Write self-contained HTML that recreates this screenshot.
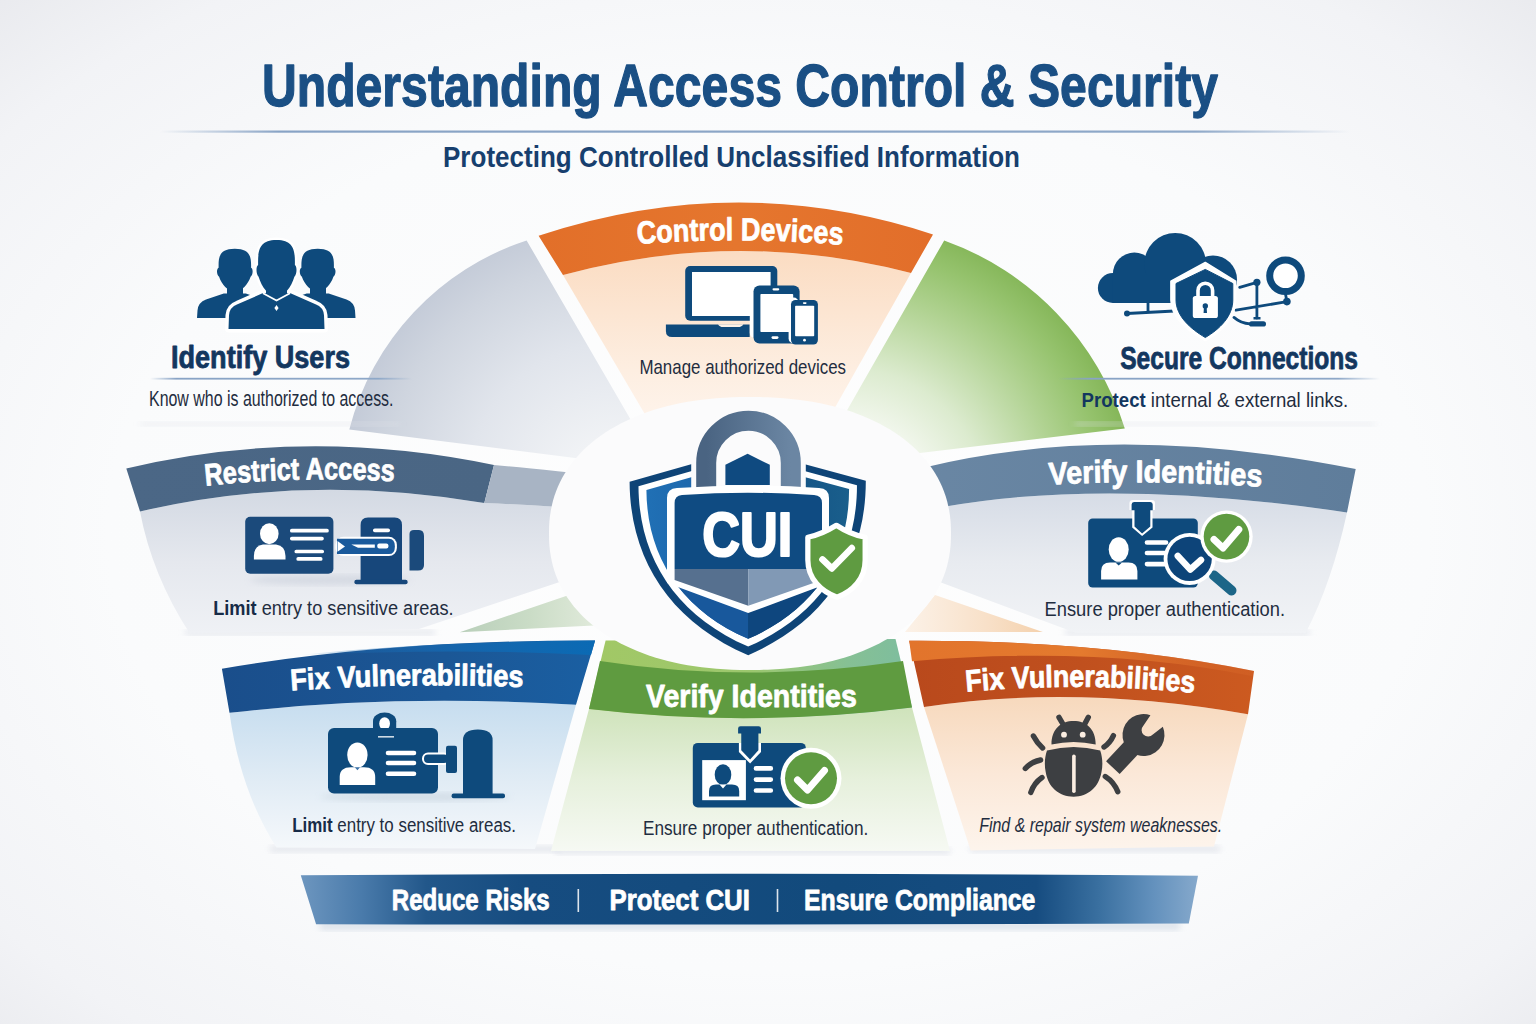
<!DOCTYPE html>
<html><head><meta charset="utf-8"><title>Understanding Access Control &amp; Security</title>
<style>html,body{margin:0;padding:0;background:#f4f5f8;}body{width:1536px;height:1024px;overflow:hidden;font-family:"Liberation Sans",sans-serif;}svg{display:block}</style>
</head><body>
<svg width="1536" height="1024" viewBox="0 0 1536 1024" font-family="Liberation Sans, sans-serif"><defs>
<radialGradient id="bg" cx="50%" cy="52%" r="74%">
  <stop offset="0" stop-color="#fefefe"/><stop offset="0.58" stop-color="#fafbfc"/><stop offset="0.85" stop-color="#f2f3f6"/><stop offset="1" stop-color="#e8e9ed"/>
</radialGradient>
<linearGradient id="gTitleLine" x1="0" x2="1">
  <stop offset="0" stop-color="#88a3c5" stop-opacity="0"/><stop offset="0.1" stop-color="#88a3c5"/><stop offset="0.87" stop-color="#8ea8c8"/><stop offset="1" stop-color="#8ea8c8" stop-opacity="0"/>
</linearGradient>
<radialGradient id="gGray" gradientUnits="userSpaceOnUse" cx="615" cy="493" r="272">
  <stop offset="0.2" stop-color="#f0f2f5"/><stop offset="0.55" stop-color="#e1e5ec"/><stop offset="0.85" stop-color="#cfd5df"/><stop offset="1" stop-color="#c4cbd8"/>
</radialGradient>
<radialGradient id="gGreen" gradientUnits="userSpaceOnUse" cx="842" cy="514" r="294">
  <stop offset="0.3" stop-color="#f4f8f0"/><stop offset="0.5" stop-color="#dcebcf"/><stop offset="0.75" stop-color="#b0d291"/><stop offset="0.9" stop-color="#96c36e"/><stop offset="1" stop-color="#86b75a"/>
</radialGradient>
<linearGradient id="gOrBody" x1="0" y1="0" x2="0" y2="1">
  <stop offset="0" stop-color="#fbdcc2"/><stop offset="0.6" stop-color="#fdeee1"/><stop offset="1" stop-color="#fff7f1"/>
</linearGradient>
<linearGradient id="gOrBand" x1="0" y1="0" x2="1" y2="0">
  <stop offset="0" stop-color="#e26f29"/><stop offset="0.5" stop-color="#e5762e"/><stop offset="1" stop-color="#e26e2a"/>
</linearGradient>
<linearGradient id="gRestrictBody" x1="0" y1="0" x2="0" y2="1">
  <stop offset="0" stop-color="#d3d9e3"/><stop offset="0.5" stop-color="#e5e8ee"/><stop offset="1" stop-color="#eff1f5"/>
</linearGradient>
<linearGradient id="gRestrictBand" x1="0" y1="0" x2="1" y2="0">
  <stop offset="0" stop-color="#4b6786"/><stop offset="1" stop-color="#4a6684"/>
</linearGradient>
<linearGradient id="gVerBody" x1="0" y1="0" x2="0" y2="1">
  <stop offset="0" stop-color="#d6dce6"/><stop offset="0.5" stop-color="#e8ebf0"/><stop offset="1" stop-color="#f1f3f6"/>
</linearGradient>
<linearGradient id="gVerBand" x1="0" y1="0" x2="1" y2="0">
  <stop offset="0" stop-color="#6a87a4"/><stop offset="1" stop-color="#5f7d9b"/>
</linearGradient>
<linearGradient id="gFixBand" x1="0" y1="0" x2="1" y2="0">
  <stop offset="0" stop-color="#1a4e8b"/><stop offset="0.6" stop-color="#1b5796"/><stop offset="1" stop-color="#1a5fa2"/>
</linearGradient>
<linearGradient id="gSlvO" x1="0" y1="0" x2="1" y2="0">
  <stop offset="0" stop-color="#fcf2e8"/><stop offset="0.6" stop-color="#f8e0c8"/><stop offset="1" stop-color="#f4d1ad"/>
</linearGradient>
<linearGradient id="gSlvG" x1="0" y1="0" x2="1" y2="0">
  <stop offset="0" stop-color="#b9cfba"/><stop offset="0.5" stop-color="#cadcc6"/><stop offset="1" stop-color="#e2ebdc"/>
</linearGradient>
<linearGradient id="gFixTop" x1="0" y1="0" x2="1" y2="0">
  <stop offset="0" stop-color="#1e6cb3" stop-opacity="0"/><stop offset="0.5" stop-color="#1568b0" stop-opacity="0.8"/><stop offset="1" stop-color="#0b6ab4"/>
</linearGradient>
<linearGradient id="gFixBody" x1="0" y1="0" x2="0" y2="1">
  <stop offset="0" stop-color="#c6ddef"/><stop offset="0.55" stop-color="#e1ecf5"/><stop offset="1" stop-color="#f5f8fb"/>
</linearGradient>
<linearGradient id="gGrTop" x1="0" y1="0" x2="1" y2="0">
  <stop offset="0" stop-color="#a2c865"/><stop offset="0.5" stop-color="#9cc76e"/><stop offset="0.8" stop-color="#86c094"/><stop offset="1" stop-color="#7dbd9f"/>
</linearGradient>
<linearGradient id="gGrBand" x1="0" y1="0" x2="0" y2="1">
  <stop offset="0" stop-color="#a3c86b"/><stop offset="0.28" stop-color="#8dbb5e"/><stop offset="0.32" stop-color="#64a043"/><stop offset="1" stop-color="#5d993e"/>
</linearGradient>
<linearGradient id="gGrBody" x1="0" y1="0" x2="0" y2="1">
  <stop offset="0" stop-color="#cfe3bb"/><stop offset="0.5" stop-color="#e6f0dc"/><stop offset="1" stop-color="#f6f9f3"/>
</linearGradient>
<linearGradient id="gOr2Band" x1="0" y1="0" x2="1" y2="0">
  <stop offset="0" stop-color="#b9491c"/><stop offset="0.5" stop-color="#c0501e"/><stop offset="1" stop-color="#cc5a20"/>
</linearGradient>
<linearGradient id="gOr2Top" x1="0" y1="0" x2="1" y2="0">
  <stop offset="0" stop-color="#e2742c"/><stop offset="0.5" stop-color="#e47a2e"/><stop offset="1" stop-color="#d9682a" stop-opacity="0.3"/>
</linearGradient>
<linearGradient id="gOr2Body" x1="0" y1="0" x2="0" y2="1">
  <stop offset="0" stop-color="#f7d9bd"/><stop offset="0.5" stop-color="#fbe8d8"/><stop offset="1" stop-color="#fdf4ec"/>
</linearGradient>
<linearGradient id="gBanner" x1="0" y1="0" x2="1" y2="0">
  <stop offset="0" stop-color="#6d96bf"/><stop offset="0.067" stop-color="#4a7bab"/><stop offset="0.14" stop-color="#22578a"/><stop offset="0.25" stop-color="#164c80"/><stop offset="0.6" stop-color="#124a7c"/><stop offset="0.82" stop-color="#164c80"/><stop offset="0.89" stop-color="#3a70a0"/><stop offset="0.95" stop-color="#6391bd"/><stop offset="1" stop-color="#86a9cc"/>
</linearGradient>
<linearGradient id="gShackle" x1="0" y1="0" x2="1" y2="0">
  <stop offset="0" stop-color="#4a6482"/><stop offset="1" stop-color="#6b86a3"/>
</linearGradient>
<linearGradient id="gShieldIn" x1="0" y1="0" x2="1" y2="0">
  <stop offset="0" stop-color="#1f6db2"/><stop offset="0.5" stop-color="#18589a"/><stop offset="1" stop-color="#17577f"/>
</linearGradient>
<radialGradient id="gEll" cx="50%" cy="50%" r="50%">
  <stop offset="0.85" stop-color="#ffffff"/><stop offset="1" stop-color="#fafbfc"/>
</radialGradient>
<filter id="soft" x="-20%" y="-20%" width="140%" height="140%"><feGaussianBlur stdDeviation="3"/></filter>
<filter id="soft6" x="-20%" y="-20%" width="140%" height="140%"><feGaussianBlur stdDeviation="6"/></filter>
</defs>
<rect width="1536" height="1024" fill="url(#bg)"/>
<text x="262.00" y="106.3" font-size="59.88" font-weight="bold" font-style="normal" fill="#1a4f84" textLength="956.00" lengthAdjust="spacingAndGlyphs"  stroke="#1a4f84" stroke-width="1.30" stroke-linejoin="round">Understanding Access Control &amp; Security</text>
<rect x="160" y="130.5" width="1190" height="2.2" fill="url(#gTitleLine)"/>
<text x="443.00" y="167.1" font-size="29.22" font-weight="bold" font-style="normal" fill="#173f6e" textLength="577.00" lengthAdjust="spacingAndGlyphs" >Protecting Controlled Unclassified Information</text>
<path d="M526.6,240.4 A270,270 0 0 0 349.3,429.5 L579,458.5 L640,470 L630.9,419.9 Z" fill="url(#gGray)"/>
<path d="M944.2,240.4 A292,292 0 0 1 1124.8,428.5 L911.6,454.1 L860,480 L814,468 Z" fill="url(#gGreen)"/>
<path d="M563,275 Q737.7,228 911,273 L811,450 L666,450 Z" fill="url(#gOrBody)"/>
<path d="M538.6,235.8 Q737.7,170 933,234.4 L911,273 Q737.7,228 563,275 Z" fill="url(#gOrBand)"/>
<rect x="140" y="422" width="260" height="4" fill="#dfe2e8" opacity="0.5" filter="url(#soft)"/>
<rect x="150" y="377.8" width="262" height="1.8" fill="url(#gTitleLine)"/>
<rect x="1075" y="422" width="300" height="4" fill="#dfe2e8" opacity="0.5" filter="url(#soft)"/>
<rect x="1058" y="377.8" width="322" height="1.8" fill="url(#gTitleLine)"/>
<rect x="185" y="630" width="250" height="5" fill="#d9dde5" opacity="0.7" filter="url(#soft)"/>
<path d="M140,511.4 Q306,472.8 484.3,503 Q560,506 620,512 L620,580 L559.7,581.9 L419,629 L189.8,633.5 Q152,575 140,511.4 Z" fill="url(#gRestrictBody)"/>
<path d="M126.3,468.4 Q306,425.9 494,465 L484.3,503 Q306,472.8 140,511.4 Z" fill="url(#gRestrictBand)"/>
<path d="M494,465 Q540,469 620,478 L620,512 Q560,506 484.3,503 Z" fill="#a8b4c4"/>
<path d="M459.7,632.2 L567.5,595.6 L600,600 L600,626 L594,625.6 Z" fill="url(#gSlvG)"/>
<rect x="1065" y="630" width="245" height="5" fill="#d9dde5" opacity="0.7" filter="url(#soft)"/>
<path d="M900,506.5 L945.6,506.5 Q1109.7,477.6 1347,512.4 Q1332,582 1305.6,633 L1076,633 L941,582.5 L900,570 Z" fill="url(#gVerBody)"/>
<path d="M900,470 L924.4,467.4 Q1115.8,421 1355.7,469 L1347,512.4 Q1109.7,477.6 945.6,506.5 L900,506.5 Z" fill="url(#gVerBand)"/>
<path d="M935,595 L1042.8,632 L905,632 Z" fill="url(#gSlvO)"/>
<rect x="270" y="846" width="290" height="6" fill="#d9dde5" opacity="0.7" filter="url(#soft)"/>
<path d="M229.5,712.8 Q391,694 576,704.8 L535,849 L276.4,847.5 Q240,790 229.5,712.8 Z" fill="url(#gFixBody)"/>
<path d="M221.9,668.7 Q391,640 595.1,640.5 L576,704.8 Q391,694 229.5,712.8 Z" fill="url(#gFixBand)"/>
<path d="M300,655 Q420,642 595.1,640.5 L591,655 Q460,648 300,655 Z" fill="url(#gFixTop)"/>
<rect x="555" y="848" width="395" height="6" fill="#d9dde5" opacity="0.7" filter="url(#soft)"/>
<path d="M589,709 Q748,728 912,707.5 L950,851 L551,851 Z" fill="url(#gGrBody)"/>
<path d="M605.6,640.5 L895.5,639 L912,707.5 Q748,728 589,709 Z" fill="url(#gGrTop)"/>
<path d="M600,661 Q748,684 903,661 L912,707.5 Q748,728 589,709 Z" fill="#5f9b40"/>
<rect x="970" y="846" width="250" height="6" fill="#d9dde5" opacity="0.7" filter="url(#soft)"/>
<path d="M924,707 Q1075,684 1248,714.3 L1214,846.6 L970.7,850.5 Z" fill="url(#gOr2Body)"/>
<path d="M909.2,640.8 Q1100,640 1254,671 L1248,714.3 Q1075,684 924,707 Z" fill="url(#gOr2Band)"/>
<path d="M909.2,640.8 Q1100,640 1254,671 L1252,676 Q1100,645 912,661.3 Z" fill="url(#gOr2Top)"/>
<path d="M951.0,533.5 L950.9,540.0 L950.6,545.6 L950.0,551.0 L949.2,556.2 L948.2,561.3 L947.0,566.2 L945.6,571.1 L943.9,575.8 L942.0,580.4 L939.9,585.0 L937.6,589.4 L935.1,593.8 L932.4,598.0 L929.5,602.1 L926.4,606.2 L923.0,610.1 L919.5,614.0 L915.8,617.7 L911.9,621.3 L907.8,624.8 L903.5,628.2 L899.0,631.5 L894.3,634.7 L889.5,637.7 L884.5,640.6 L879.3,643.4 L874.0,646.1 L868.5,648.6 L862.8,651.0 L857.0,653.3 L851.1,655.4 L845.0,657.4 L838.7,659.2 L832.3,660.9 L825.8,662.5 L819.1,663.9 L812.3,665.2 L805.3,666.3 L798.2,667.3 L790.9,668.1 L783.5,668.8 L775.8,669.3 L767.9,669.7 L759.5,669.9 L750.0,670.0 L740.5,669.9 L732.1,669.7 L724.2,669.3 L716.5,668.8 L709.1,668.1 L701.8,667.3 L694.7,666.3 L687.7,665.2 L680.9,663.9 L674.2,662.5 L667.7,660.9 L661.3,659.2 L655.0,657.4 L648.9,655.4 L643.0,653.3 L637.2,651.0 L631.5,648.6 L626.0,646.1 L620.7,643.4 L615.5,640.6 L610.5,637.7 L605.7,634.7 L601.0,631.5 L596.5,628.2 L592.2,624.8 L588.1,621.3 L584.2,617.7 L580.5,614.0 L577.0,610.1 L573.6,606.2 L570.5,602.1 L567.6,598.0 L564.9,593.8 L562.4,589.4 L560.1,585.0 L558.0,580.4 L556.1,575.8 L554.4,571.1 L553.0,566.2 L551.8,561.3 L550.8,556.2 L550.0,551.0 L549.4,545.6 L549.1,540.0 L549.0,533.5 L549.1,527.0 L549.4,521.4 L550.0,516.0 L550.8,510.8 L551.8,505.7 L553.0,500.8 L554.4,495.9 L556.1,491.2 L558.0,486.6 L560.1,482.0 L562.4,477.6 L564.9,473.2 L567.6,469.0 L570.5,464.9 L573.6,460.8 L577.0,456.9 L580.5,453.0 L584.2,449.3 L588.1,445.7 L592.2,442.2 L596.5,438.8 L601.0,435.5 L605.7,432.3 L610.5,429.3 L615.5,426.4 L620.7,423.6 L626.0,420.9 L631.5,418.4 L637.2,416.0 L643.0,413.7 L648.9,411.6 L655.0,409.6 L661.3,407.8 L667.7,406.1 L674.2,404.5 L680.9,403.1 L687.7,401.8 L694.7,400.7 L701.8,399.7 L709.1,398.9 L716.5,398.2 L724.2,397.7 L732.1,397.3 L740.5,397.1 L750.0,397.0 L759.5,397.1 L767.9,397.3 L775.8,397.7 L783.5,398.2 L790.9,398.9 L798.2,399.7 L805.3,400.7 L812.3,401.8 L819.1,403.1 L825.8,404.5 L832.3,406.1 L838.7,407.8 L845.0,409.6 L851.1,411.6 L857.0,413.7 L862.8,416.0 L868.5,418.4 L874.0,420.9 L879.3,423.6 L884.5,426.4 L889.5,429.3 L894.3,432.3 L899.0,435.5 L903.5,438.8 L907.8,442.2 L911.9,445.7 L915.8,449.3 L919.5,453.0 L923.0,456.9 L926.4,460.8 L929.5,464.9 L932.4,469.0 L935.1,473.2 L937.6,477.6 L939.9,482.0 L942.0,486.6 L943.9,491.2 L945.6,495.9 L947.0,500.8 L948.2,505.7 L949.2,510.8 L950.0,516.0 L950.6,521.4 L950.9,527.0Z" fill="#fbfbfc"/>
<linearGradient id="gShIn2" x1="0" x2="1" y1="0" y2="0"><stop offset="0" stop-color="#2070b5"/><stop offset="0.5" stop-color="#1a5ea3"/><stop offset="0.5" stop-color="#0f4a80"/><stop offset="1" stop-color="#1a5f8c"/></linearGradient>
<path d="M629.6,481.8 L692,464 L700,500 L796,500 L804,464 L865.8,480.7 C866,560 825,622 748.2,655.2 C671,622 630,560 629.6,481.8 Z" fill="#0e4477"/>
<path d="M629.6,481.8 L692,464 L700,500 L796,500 L804,464 L865.8,480.7 C866,560 825,622 748.2,655.2 C671,622 630,560 629.6,481.8 Z" fill="#ffffff" transform="translate(748 540) scale(0.925) translate(-748 -540)"/>
<path d="M629.6,481.8 L692,464 L700,500 L796,500 L804,464 L865.8,480.7 C866,560 825,622 748.2,655.2 C671,622 630,560 629.6,481.8 Z" fill="url(#gShIn2)" transform="translate(748 540) scale(0.858) translate(-748 -540)"/>
<clipPath id="cpShIn"><path d="M629.6,481.8 L692,464 L700,500 L796,500 L804,464 L865.8,480.7 C866,560 825,622 748.2,655.2 C671,622 630,560 629.6,481.8 Z" transform="translate(748 540) scale(0.858) translate(-748 -540)"/></clipPath>
<g clip-path="url(#cpShIn)"><rect x="620" y="585" width="128.2" height="80" fill="#18589c"/><rect x="748.2" y="585" width="130" height="80" fill="#0e467e"/></g>
<path d="M706.2,492 L706.2,463 A42.3,42.3 0 0 1 790.8,463 L790.8,492" fill="none" stroke="#fbfbfc" stroke-width="30"/>
<path d="M706.2,492 L706.2,463 A42.3,42.3 0 0 1 790.8,463 L790.8,492" fill="none" stroke="url(#gShackle)" stroke-width="20"/>
<path d="M725.4,485 L725.4,464.8 L747.6,453.8 L769.8,464.8 L769.8,485 Z" fill="#0f4a80"/>
<path d="M667,498 Q667,488.5 677,488 Q748,483 819,488 Q829,488.5 829,498 L829,583 L748.2,613 L667,583 Z" fill="#ffffff"/>
<path d="M674.6,503 Q674.6,495.5 682,495 Q748,490.5 814,495 Q822,495.5 822,503 L822,569 L674.6,569 Z" fill="#0f4b82"/>
<path d="M674.6,569 L748.2,569 L748.2,605.7 L674.6,580 Z" fill="#56708f"/>
<path d="M748.2,569 L822,569 L822,580 L748.2,605.7 Z" fill="#8199b5"/>
<text x="702.20" y="556.2" font-size="63.08" font-weight="bold" font-style="normal" fill="#ffffff" textLength="90.20" lengthAdjust="spacingAndGlyphs"  stroke="#ffffff" stroke-width="2.20" stroke-linejoin="round">CUI</text>
<g transform="translate(836.5 561) scale(1.05) translate(-836.5 -561)">
<path d="M836.4,527 Q822,536 809.2,538.4 L809.2,560 C809.2,578 822,590 837,595.5 C852,590 863.8,578 863.8,560 L863.8,538.4 Q850,536 836.4,527 Z" fill="#5f9b41" stroke="#ffffff" stroke-width="5" stroke-linejoin="round"/>
<path d="M823.1,559.5 L832,568.1 L851.1,548.6" fill="none" stroke="#ffffff" stroke-width="6.2" stroke-linecap="round" stroke-linejoin="round"/>
</g>
<g fill="#0e4a7c">
<path d="M234.8,248.8 C251.9,248.8 251.1,259.4 251.1,267.8 C253.2,268.6 253.2,275.0 250.6,276.7 C247.8,284.7 242.1,291.0 234.8,291.0 C227.5,291.0 221.8,284.7 219.1,276.7 C216.4,275.0 216.4,268.6 218.6,267.8 C218.6,259.4 217.7,248.8 234.8,248.8 Z"/><path d="M223.8,293.5 L206.0,299.5 Q198.0,302.5 197.5,310.5 L197.0,318.0 H272.6 L272.1,310.5 Q271.6,302.5 263.6,299.5 L245.8,293.5 Z"/><rect x="227" y="282" width="16" height="14"/>
<path d="M317.7,248.8 C334.8,248.8 333.9,259.4 333.9,267.8 C336.1,268.6 336.1,275.0 333.4,276.7 C330.7,284.7 325.0,291.0 317.7,291.0 C310.4,291.0 304.7,284.7 301.9,276.7 C299.2,275.0 299.2,268.6 301.4,267.8 C301.4,259.4 300.6,248.8 317.7,248.8 Z"/><path d="M306.7,293.5 L288.9,299.5 Q280.9,302.5 280.4,310.5 L279.9,318.0 H355.5 L355.0,310.5 Q354.5,302.5 346.5,299.5 L328.7,293.5 Z"/><rect x="310" y="282" width="16" height="14"/>
</g>
<path d="M262.5,293.3 L237.5,304.3 Q229.5,307.3 229.0,315.3 L228.5,329.0 H324.5 L324.0,315.3 Q323.5,307.3 315.5,304.3 L290.5,293.3 Z" fill="#ffffff" stroke="#ffffff" stroke-width="7" stroke-linejoin="round"/>
<path d="M276.5,240.0 C295.8,240.0 294.9,253.9 294.9,265.0 C297.1,266.1 297.1,274.5 294.4,276.7 C291.2,287.3 284.8,295.6 276.5,295.6 C268.2,295.6 261.8,287.3 258.6,276.7 C255.9,274.5 255.9,266.1 258.1,265.0 C258.1,253.9 257.2,240.0 276.5,240.0 Z" fill="#ffffff" stroke="#ffffff" stroke-width="5"/>
<g fill="#0e4a7c"><path d="M262.5,293.3 L237.5,304.3 Q229.5,307.3 229.0,315.3 L228.5,329.0 H324.5 L324.0,315.3 Q323.5,307.3 315.5,304.3 L290.5,293.3 Z"/><path d="M276.5,240.0 C295.8,240.0 294.9,253.9 294.9,265.0 C297.1,266.1 297.1,274.5 294.4,276.7 C291.2,287.3 284.8,295.6 276.5,295.6 C268.2,295.6 261.8,287.3 258.6,276.7 C255.9,274.5 255.9,266.1 258.1,265.0 C258.1,253.9 257.2,240.0 276.5,240.0 Z"/><rect x="266" y="285" width="21" height="12"/></g>
<path d="M263,293.3 L276.5,300.5 L290,293.3" fill="none" stroke="#ffffff" stroke-width="1.8"/>
<path d="M276.5,305 L278.6,308 L276.5,311 L274.4,308 Z" fill="#ffffff"/>
<text x="171.00" y="367.9" font-size="30.52" font-weight="bold" font-style="normal" fill="#13375f" textLength="179.00" lengthAdjust="spacingAndGlyphs"  stroke="#13375f" stroke-width="0.80" stroke-linejoin="round">Identify Users</text>
<text x="149.00" y="405.8" font-size="21.37" font-weight="normal" font-style="normal" fill="#1f2d40" textLength="244.50" lengthAdjust="spacingAndGlyphs" >Know who is authorized to access.</text>
<g>
<rect x="685.2" y="266.1" width="92.1" height="54.7" rx="5" fill="#0e4a7c"/>
<rect x="692" y="272" width="78.6" height="44" fill="#ffffff"/>
<path d="M665.9,324.6 H749.7 V337 H672 Q665.9,337 665.9,331 Z" fill="#0e4a7c"/>
<path d="M718,324.2 H743.3 Q742,327 738,327 H723 Q719.5,327 718,324.2 Z" fill="#fdf1e6"/>
<rect x="749.8" y="283" width="12" height="55" rx="5" fill="#ffffff"/>
<rect x="753.5" y="285.4" width="46.1" height="58" rx="6" fill="#0e4a7c"/>
<rect x="760.4" y="294" width="32.8" height="38.1" rx="0.8" fill="#ffffff"/>
<rect x="772.5" y="288.2" width="6.8" height="2.2" rx="1.1" fill="#ffffff"/>
<rect x="771.5" y="336.2" width="7" height="2.8" rx="1.4" fill="#ffffff"/>
<rect x="788.6" y="297.6" width="10" height="45.8" rx="5" fill="#ffffff"/>
<rect x="791" y="299.9" width="26.9" height="44.6" rx="4.5" fill="#0e4a7c"/>
<rect x="795.1" y="305.8" width="19.1" height="30.4" rx="0.8" fill="#ffffff"/>
<rect x="802.9" y="302.3" width="3.7" height="1.6" rx="0.8" fill="#ffffff"/>
<circle cx="804.5" cy="340.2" r="1.4" fill="#ffffff"/>
</g>
<path id="tp1" d="M637.40,244.08 A1229.45,1229.45 0 0 1 842.80,244.91" fill="none"/><text font-size="31.83" font-weight="bold" fill="#ffffff" stroke="#ffffff" stroke-width="0.80" stroke-linejoin="round"><textPath href="#tp1" textLength="205.64" lengthAdjust="spacingAndGlyphs">Control Devices</textPath></text>
<text x="639.40" y="373.9" font-size="20.78" font-weight="normal" font-style="normal" fill="#1f2d40" textLength="206.60" lengthAdjust="spacingAndGlyphs" >Manage authorized devices</text>
<g fill="#0e4a7c">
<circle cx="1112.9" cy="288" r="15"/>
<circle cx="1134.4" cy="274" r="21.5"/>
<circle cx="1175.2" cy="263.7" r="30.8"/>
<circle cx="1213" cy="279.4" r="24"/>
<rect x="1112.9" y="275" width="110" height="28"/>
</g>
<g stroke="#0e4a7c" stroke-width="2.8" fill="none" stroke-linecap="round">
<path d="M1148,302 V312 M1127,313.5 L1174.5,311"/>
<path d="M1239.7,287.3 L1256.9,282.3 V318 M1236,310.2 L1286.9,301.6 L1285.5,294 M1234,317.4 Q1241,323.5 1250,323.8"/>
</g>
<g fill="#0e4a7c"><circle cx="1127" cy="313.5" r="3"/><circle cx="1256.9" cy="282.3" r="3.6"/><circle cx="1286.9" cy="301.6" r="3.8"/><rect x="1249" y="321.2" width="17" height="5.4" rx="2.7"/><rect x="1253.5" y="317" width="7" height="2.5"/></g>
<circle cx="1285.5" cy="275.8" r="15.8" fill="#ffffff" stroke="#0e4a7c" stroke-width="7"/>
<path d="M1205.3,262.5 L1235.6,281.2 L1235.6,300 C1235.6,318 1222,332 1205.3,340.5 C1188.6,332 1170.9,318 1170.9,300 L1170.9,281.2 Z" fill="#ffffff" stroke="#ffffff" stroke-width="1.5" stroke-linejoin="round"/>
<path d="M1205.3,269.4 L1232.8,283.5 L1232.8,300 C1232.8,316 1220,329 1205.3,337.5 C1190.6,329 1176,316 1176,300 L1176,283.5 Z" fill="#0e4a7c" stroke="#0e4a7c" stroke-width="1" stroke-linejoin="round"/>
<path d="M1198,297 V290.5 A7.3,7.3 0 0 1 1212.6,290.5 V297" fill="none" stroke="#ffffff" stroke-width="3.6"/>
<rect x="1192.8" y="295.9" width="25.1" height="22.2" rx="2.6" fill="#ffffff"/>
<circle cx="1205.3" cy="306" r="2.7" fill="#0e4a7c"/><path d="M1204,306 L1203.6,313 H1207 L1206.6,306 Z" fill="#0e4a7c"/>
<text x="1120.20" y="368.9" font-size="30.52" font-weight="bold" font-style="normal" fill="#13375f" textLength="237.80" lengthAdjust="spacingAndGlyphs"  stroke="#13375f" stroke-width="0.80" stroke-linejoin="round">Secure Connections</text>
<text x="1081.60" y="407.0" font-size="20.20" font-weight="normal" font-style="normal" fill="#1f2d40" textLength="266.70" lengthAdjust="spacingAndGlyphs" ><tspan font-weight="bold" fill="#13375f">Protect</tspan> internal &amp; external links.</text>
<ellipse cx="330" cy="580" rx="80" ry="5" fill="#c9cfda" opacity="0.6" filter="url(#soft)"/>
<rect x="245.2" y="516.8" width="88.2" height="56.9" rx="5" fill="#1b4a7b"/>
<ellipse cx="269.3" cy="533.7" rx="9.3" ry="10.5" fill="#ffffff"/>
<path d="M253.9,559.4 V556 Q253.9,546 263,544.6 H276 Q285.5,546 285.5,556 V559.4 Z" fill="#ffffff"/>
<g stroke="#ffffff" stroke-width="3.7" stroke-linecap="round"><path d="M291.8,530.7 H327 M291.8,538.6 H322 M296.3,551.5 H322.2 M298.2,558.9 H320.7"/></g>
<path d="M360.6,583 V525 Q360.6,517.4 368,517.4 H394.6 Q402,517.4 402,525 V583 Z" fill="#17477b"/>
<rect x="354.4" y="579.8" width="53.2" height="4.4" rx="2" fill="#17477b"/>
<rect x="373" y="528.5" width="17" height="3.7" rx="1.8" fill="#ffffff"/>
<path d="M409.5,534 Q409.5,530 414,530 H419 Q424,530 424,536 V565 Q424,570.6 418,570.6 H409.5 Z" fill="#1b4a7b"/>
<rect x="335.5" y="536.8" width="61.4" height="19.3" rx="8" fill="#ffffff"/>
<path d="M337,538.8 H389 Q394.9,538.8 394.9,546.4 Q394.9,554.1 389,554.1 H337 Z" fill="#1a5a9c"/>
<path d="M337.5,541 L345,546.4 L337.5,551.8 Z" fill="#ffffff"/>
<path d="M351.3,544.6 H374.8 V547.7 H358 Z" fill="#ffffff"/>
<rect x="377.3" y="543.6" width="11.1" height="4.9" rx="2" fill="#ffffff"/>
<path id="tp2" d="M205.40,485.68 A1157.13,1157.13 0 0 1 394.40,481.25" fill="none"/><text font-size="30.81" font-weight="bold" fill="#ffffff" stroke="#ffffff" stroke-width="0.80" stroke-linejoin="round"><textPath href="#tp2" textLength="189.26" lengthAdjust="spacingAndGlyphs">Restrict Access</textPath></text>
<text x="213.20" y="615.0" font-size="20.35" font-weight="normal" font-style="normal" fill="#1f2d40" textLength="240.40" lengthAdjust="spacingAndGlyphs" ><tspan font-weight="bold" fill="#172b47">Limit</tspan> entry to sensitive areas.</text>
<rect x="1088.2" y="518.4" width="109.6" height="69.2" rx="4.5" fill="#0e4a7c"/>
<path d="M1129.5,510 V503 Q1129.5,500 1133,500 H1151.5 Q1155,500 1155,503 V510 H1152.5 V527.5 L1142.1,536 L1132.2,527.5 V510 Z" fill="#ffffff"/>
<path d="M1131.6,510.2 V504.5 Q1131.6,502 1134,502 H1150.3 Q1152.7,502 1152.7,504.5 V510.2 H1150.3 V526.6 L1142.1,533.4 L1134.5,526.6 V510.2 Z" fill="#0e4a7c"/>
<ellipse cx="1118.7" cy="549.5" rx="10" ry="12.3" fill="#ffffff"/>
<path d="M1101.1,579.4 V571 Q1101.1,562.4 1110,562.4 H1128.5 Q1137.4,562.4 1137.4,571 V579.4 Z" fill="#ffffff"/>
<path d="M1115.5,562.4 L1118.7,565.5 L1122,562.4 Z" fill="#0e4a7c"/>
<g stroke="#ffffff" stroke-width="4.7" stroke-linecap="round"><path d="M1147,542.5 H1166 M1147,553 H1166 M1147,564.1 H1166"/></g>
<path d="M1214,575.5 L1231.5,590.5" stroke="#1c6688" stroke-width="10" stroke-linecap="round"/>
<circle cx="1189.6" cy="558.9" r="26" fill="#ffffff"/>
<circle cx="1189.6" cy="558.9" r="22.2" fill="#0d4479"/>
<path d="M1177.8,556 L1190.3,569.5 L1201,560" fill="none" stroke="#ffffff" stroke-width="6.5" stroke-linecap="round" stroke-linejoin="round"/>
<circle cx="1226.5" cy="536.6" r="26.2" fill="#ffffff"/>
<circle cx="1226.5" cy="536.6" r="22.8" fill="#5f9b41"/>
<path d="M1214,539.5 L1223,548 L1238.8,529.5" fill="none" stroke="#ffffff" stroke-width="7" stroke-linecap="round" stroke-linejoin="round"/>
<path id="tp3" d="M1049.00,484.73 A1582.16,1582.16 0 0 1 1261.80,487.02" fill="none"/><text font-size="31.54" font-weight="bold" fill="#ffffff" stroke="#ffffff" stroke-width="0.80" stroke-linejoin="round"><textPath href="#tp3" textLength="212.97" lengthAdjust="spacingAndGlyphs">Verify Identities</textPath></text>
<text x="1044.50" y="615.5" font-size="19.33" font-weight="normal" font-style="normal" fill="#1f2d40" textLength="240.50" lengthAdjust="spacingAndGlyphs" >Ensure proper authentication.</text>
<ellipse cx="415" cy="797" rx="95" ry="4" fill="#c5d0dc" opacity="0.6" filter="url(#soft)"/>
<ellipse cx="384.6" cy="721" rx="11.6" ry="8.5" fill="#0e4a7c"/><rect x="373" y="721" width="23.2" height="8" fill="#0e4a7c"/><ellipse cx="384.6" cy="723.6" rx="5.4" ry="6.4" fill="#ffffff"/>
<rect x="328" y="728" width="110" height="65.6" rx="6" fill="#0e4a7c"/>
<rect x="378" y="736" width="16" height="1.6" fill="#ffffff" opacity="0.8"/>
<ellipse cx="357.4" cy="755.1" rx="10.2" ry="12.7" fill="#ffffff"/>
<path d="M339.7,785 V777 Q339.7,767.2 351,767.2 H364 Q375.2,767.2 375.2,777 V785 Z" fill="#ffffff"/>
<path d="M354.8,767.2 L357.4,770.2 L360,767.2 Z" fill="#3d73a8"/>
<g stroke="#ffffff" stroke-width="4.6" stroke-linecap="round"><path d="M388,753 H414 M388,763 H414 M388,773.7 H414"/></g>
<rect x="423" y="753.5" width="26" height="10.5" rx="5" fill="#0e4a7c" stroke="#ffffff" stroke-width="2"/>
<rect x="446" y="745.8" width="11" height="27.2" rx="2" fill="#0e4a7c"/>
<path d="M463,795 V740 Q463,729.4 477.8,729.4 Q492.6,729.4 492.6,740 V795 Z" fill="#0e4a7c"/>
<rect x="451.6" y="793.6" width="53.4" height="4.7" rx="2" fill="#0e4a7c"/>
<path id="tp4" d="M291.00,690.57 A2017.23,2017.23 0 0 1 523.20,687.13" fill="none"/><text font-size="30.23" font-weight="bold" fill="#ffffff" stroke="#ffffff" stroke-width="0.80" stroke-linejoin="round"><textPath href="#tp4" textLength="232.35" lengthAdjust="spacingAndGlyphs">Fix Vulnerabilities</textPath></text>
<text x="292.20" y="832.0" font-size="19.91" font-weight="normal" font-style="normal" fill="#1f2d40" textLength="223.80" lengthAdjust="spacingAndGlyphs" ><tspan font-weight="bold" fill="#172b47">Limit</tspan> entry to sensitive areas.</text>
<rect x="692.8" y="742.9" width="113" height="64.6" rx="5" fill="#0e4a7c"/>
<path d="M738.9,742.9 V752 L750.1,763.5 L761,752 V742.9 Z" fill="#ffffff"/>
<path d="M738.1,733.5 V728.5 Q738.1,726.25 740.5,726.25 H758.6 Q761,726.25 761,728.5 V733.5 H758.4 V750.2 L750.1,759.6 L741.25,750.2 V733.5 Z" fill="#0e4a7c"/>
<rect x="702.2" y="760.1" width="43.7" height="40.1" fill="#ffffff"/>
<ellipse cx="723" cy="774.7" rx="8.3" ry="10.4" fill="#0e4a7c"/>
<path d="M709,796.6 V791 Q709,784.6 716,784.6 H732 Q739.2,784.6 739.2,791 V796.6 Z" fill="#0e4a7c"/>
<path d="M719.5,784.6 L723,788.5 L726.5,784.6 Z" fill="#ffffff"/>
<g stroke="#ffffff" stroke-width="4.7" stroke-linecap="round"><path d="M756,768.4 H770.8 M756,779.6 H770.8 M756,790.5 H770.8"/></g>
<circle cx="811" cy="778.3" r="30.5" fill="#ffffff"/>
<circle cx="811" cy="778.3" r="26" fill="#5f9b41"/>
<path d="M797.5,780 L807.5,790 L824.5,770.5" fill="none" stroke="#ffffff" stroke-width="7" stroke-linecap="round" stroke-linejoin="round"/>
<text x="646.00" y="707.3" font-size="31.10" font-weight="bold" font-style="normal" fill="#ffffff" textLength="210.80" lengthAdjust="spacingAndGlyphs"  stroke="#ffffff" stroke-width="0.80" stroke-linejoin="round">Verify Identities</text>
<text x="643.00" y="834.7" font-size="19.91" font-weight="normal" font-style="normal" fill="#1f2d40" textLength="225.20" lengthAdjust="spacingAndGlyphs" >Ensure proper authentication.</text>
<g fill="#3d3f42">
<path d="M1051.5,744.5 C1051.5,729 1061,721.1 1073.6,721.1 C1086.2,721.1 1095.7,729 1095.7,744.5 Q1073.6,739.5 1051.5,744.5 Z"/>
<path d="M1047,750.5 Q1073.6,743.5 1100.2,750.5 C1102.5,757 1103,765 1101.5,772 C1099,787 1088,796.7 1073.6,796.7 C1059,796.7 1048,787 1045.7,772 C1044.2,765 1044.7,757 1047,750.5 Z"/>
</g>
<g stroke="#3d3f42" stroke-width="5.4" fill="none" stroke-linecap="round">
<path d="M1062.6,723.5 L1059,717.3 M1085,723.5 L1088.3,717.3"/>
<path d="M1042.6,748 Q1037,743 1033.4,736 M1040.6,760 Q1031,762 1025.3,768.5 M1042,777.5 Q1034,783 1030.8,792.5"/>
<path d="M1104,747 Q1110,743 1113.4,735.6 M1105.3,776.5 Q1114,782 1117.8,791.8"/>
</g>
<rect x="1072.1" y="754.5" width="3.6" height="38.5" rx="1.8" fill="#fbeee2"/>
<circle cx="1064" cy="734.7" r="2.9" fill="#fbeee2"/><circle cx="1082.7" cy="734.7" r="2.9" fill="#fbeee2"/>
<g transform="translate(1143.3 735.2) rotate(-46.8)" fill="#3d3f42">
<rect x="-44.5" y="-9.3" width="40" height="18.6"/>
<path d="M19.5,-8.5 A21,21 0 1 0 19.5,8.5 L7,6.5 A6.5,6.5 0 0 1 7,-6.5 Z"/>
</g>
<path id="tp5" d="M966.20,691.85 A1166.10,1166.10 0 0 1 1194.40,692.95" fill="none"/><text font-size="30.67" font-weight="bold" fill="#ffffff" stroke="#ffffff" stroke-width="0.80" stroke-linejoin="round"><textPath href="#tp5" textLength="228.57" lengthAdjust="spacingAndGlyphs">Fix Vulnerabilities</textPath></text>
<text x="979.20" y="832.2" font-size="20.06" font-weight="normal" font-style="italic" fill="#1f2d40" textLength="243.10" lengthAdjust="spacingAndGlyphs" >Find &amp; repair system weaknesses.</text>
<rect x="320" y="922" width="860" height="8" fill="#c9d3df" opacity="0.6" filter="url(#soft)"/>
<path d="M300.8,875.3 Q750,872 1198,875.7 L1188.8,923.4 Q750,925 316.1,924.3 Z" fill="url(#gBanner)"/>
<text x="391.80" y="909.9" font-size="29.36" font-weight="bold" font-style="normal" fill="#ffffff" textLength="157.90" lengthAdjust="spacingAndGlyphs"  stroke="#ffffff" stroke-width="0.80" stroke-linejoin="round">Reduce Risks</text>
<text x="609.50" y="909.9" font-size="29.36" font-weight="bold" font-style="normal" fill="#ffffff" textLength="140.30" lengthAdjust="spacingAndGlyphs"  stroke="#ffffff" stroke-width="0.80" stroke-linejoin="round">Protect CUI</text>
<text x="804.00" y="909.9" font-size="29.36" font-weight="bold" font-style="normal" fill="#ffffff" textLength="231.40" lengthAdjust="spacingAndGlyphs"  stroke="#ffffff" stroke-width="0.80" stroke-linejoin="round">Ensure Compliance</text>
<rect x="577.5" y="889" width="1.6" height="23" fill="#ffffff" opacity="0.85"/>
<rect x="776.7" y="889" width="1.6" height="23" fill="#ffffff" opacity="0.85"/></svg>
</body></html>
